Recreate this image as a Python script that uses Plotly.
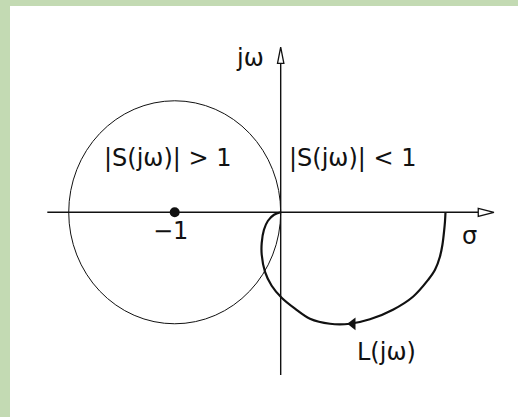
import plotly.graph_objects as go

# ── Data ──────────────────────────────────────────────────────────────────────
L_re = [1.555, 1.55, 1.543, 1.526, 1.503, 1.456, 1.392, 1.251, 1.059, 0.842,
        0.654, 0.465, 0.276, 0.135, 0.009, -0.085, -0.148, -0.179, -0.179,
        -0.158, -0.12, -0.063, 0.0]
L_im = [0.0, -0.085, -0.157, -0.291, -0.396, -0.516, -0.605, -0.755, -0.874,
        -0.960, -1.0, -1.0, -0.955, -0.865, -0.767, -0.659, -0.534, -0.381,
        -0.274, -0.157, -0.076, -0.022, 0.0]

crit_point = (-1.0, 0.0)       # the −1 point
circle_center = -1.0           # |S(jω)| = 1 circle: centre −1, radius 1
circle_radius = 1.0
arrow_point = (0.68, -1.0)     # direction arrow on L(jω)

INK   = "#111111"
GREEN = "#c3dab3"
FONT  = dict(family="DejaVu Sans, Arial, sans-serif", color=INK, size=24)

fig = go.Figure()

# green frame strips on the left and top edges of the page
fig.add_shape(type="rect", xref="paper", yref="paper", x0=-0.03, x1=0, y0=-0.01, y1=1.03,
              fillcolor=GREEN, line_width=0, layer="below")
fig.add_shape(type="rect", xref="paper", yref="paper", x0=-0.03, x1=1.02, y0=1, y1=1.03,
              fillcolor=GREEN, line_width=0, layer="below")

# unit circle |S| = 1
fig.add_shape(type="circle", xref="x", yref="y",
              x0=circle_center - circle_radius, x1=circle_center + circle_radius,
              y0=-circle_radius, y1=circle_radius,
              line=dict(color=INK, width=1))

# axes with open arrowheads
fig.add_shape(type="line", x0=-2.202, x1=1.87, y0=0, y1=0, line=dict(color=INK, width=1.4))
fig.add_shape(type="line", x0=0, x1=0, y0=-1.459, y1=1.34, line=dict(color=INK, width=1.4))
fig.add_shape(type="path", path="M 1.864,0.036 L 2.012,0 L 1.864,-0.036 Z",
              fillcolor="white", line=dict(color=INK, width=1.3))
fig.add_shape(type="path", path="M -0.03,1.336 L 0,1.482 L 0.03,1.336 Z",
              fillcolor="white", line=dict(color=INK, width=1.3))

# L(jω)
fig.add_trace(go.Scatter(x=L_re, y=L_im, mode="lines",
                         line=dict(color=INK, width=2.2, shape="spline", smoothing=1.0)))
fig.add_trace(go.Scatter(x=[arrow_point[0]], y=[arrow_point[1]], mode="markers",
                         marker=dict(symbol="triangle-left", size=11, color=INK)))
fig.add_trace(go.Scatter(x=[crit_point[0]], y=[crit_point[1]], mode="markers",
                         marker=dict(symbol="circle", size=10, color=INK)))

labels = [
    ("jω", -0.29, 1.384),
    ("|S(jω)| > 1", -1.068, 0.484),
    ("|S(jω)| < 1", 0.68, 0.484),
    ("−1", -1.044, -0.168),
    ("σ", 1.78, -0.213),
    ("L(jω)", 0.998, -1.253),
]
for txt, x, y in labels:
    fig.add_annotation(x=x, y=y, text=txt, showarrow=False,
                       xanchor="center", yanchor="middle", font=FONT)

fig.update_layout(
    width=518, height=417,
    paper_bgcolor="white", plot_bgcolor="white",
    margin=dict(l=10, r=0, t=6, b=0),
    showlegend=False,
    xaxis=dict(range=[-2.554, 2.239], visible=False, fixedrange=True),
    yaxis=dict(range=[-1.836, 1.850], visible=False, fixedrange=True),
)

# drop the default 8px body margin so the figure sits at the window corner
fig.write_html("out.html", config=dict(displayModeBar=False),
               post_script="document.body.style.margin='0';")
